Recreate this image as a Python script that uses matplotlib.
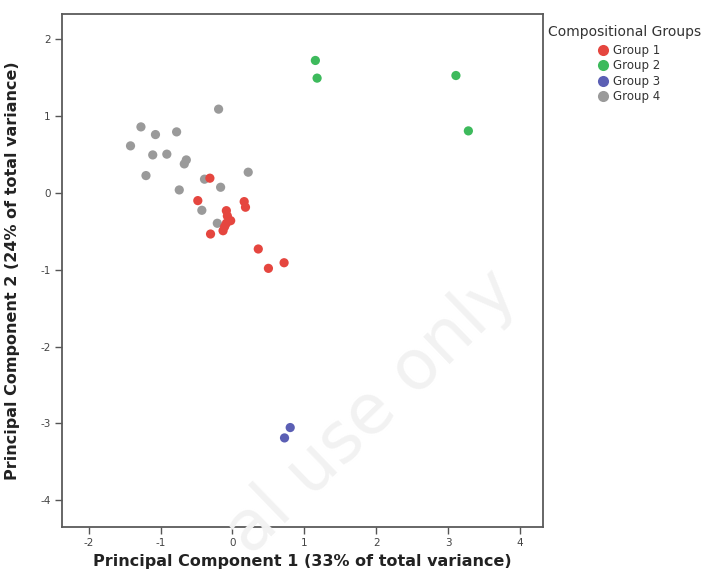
import matplotlib
matplotlib.use("Agg")
import matplotlib.pyplot as plt
from matplotlib.lines import Line2D

plt.rcParams['font.family'] = ['DejaVu Sans']

groups = ["Group 1", "Group 2", "Group 3", "Group 4"]
colors = ["#e5463f", "#3dba5c", "#5b5fb4", "#9a9a9a"]

g1_x = [-0.313, -0.481, 0.164, 0.182, -0.084, -0.070, -0.024, -0.084, -0.108, -0.130, -0.304, 0.360, 0.719, 0.501]
g1_y = [0.192, -0.100, -0.113, -0.186, -0.231, -0.300, -0.361, -0.395, -0.439, -0.492, -0.535, -0.730, -0.909, -0.982]
g2_x = [1.154, 1.178, 3.109, 3.282]
g2_y = [1.725, 1.495, 1.529, 0.808]
g3_x = [0.804, 0.725]
g3_y = [-3.055, -3.190]
g4_x = [-0.192, -1.272, -1.070, -0.776, -1.417, -1.108, -0.912, -0.641, -0.669, -1.202, 0.220, -0.388, -0.164, -0.739, -0.425, -0.210]
g4_y = [1.091, 0.860, 0.760, 0.795, 0.613, 0.495, 0.505, 0.430, 0.378, 0.226, 0.270, 0.179, 0.074, 0.039, -0.226, -0.395]

xticks = [-2, -1, 0, 1, 2, 3, 4]
yticks = [2, 1, 0, -1, -2, -3, -4]

W, H = 713, 577
fig = plt.figure(figsize=(W / 100, H / 100), dpi=100)
ax = fig.add_axes([62 / W, 1 - 527 / H, (543 - 62) / W, (527 - 14) / H])

# faint watermark
fig.text(372 / W, 1 - 412 / H, "al use only", rotation=44, fontsize=50, color="#f2f2f2",
         ha="center", va="center", zorder=0)
ax.patch.set_alpha(0)

ax.scatter(g4_x, g4_y, s=44, color=colors[3], edgecolors="none", zorder=3)
ax.scatter(g1_x, g1_y, s=44, color=colors[0], edgecolors="none", zorder=4)
ax.scatter(g2_x, g2_y, s=44, color=colors[1], edgecolors="none", zorder=3)
ax.scatter(g3_x, g3_y, s=44, color=colors[2], edgecolors="none", zorder=3)

ax.set_xlim(-2.37, 4.32)
ax.set_ylim(-4.35, 2.33)
ax.set_xticks(xticks)
ax.set_yticks(yticks)
ax.set_xticklabels([str(t) for t in xticks])
ax.set_yticklabels([str(t) for t in yticks])
ax.tick_params(axis="both", direction="out", length=5, width=1, color="#555555",
               labelsize=7.5, labelcolor="#444444", pad=3)
for sp in ax.spines.values():
    sp.set_color("#5a5a5a")
    sp.set_linewidth(1.3)

ax.set_xlabel("Principal Component 1 (33% of total variance)", fontsize=11.5,
              fontweight="bold", color="#222222")
ax.xaxis.set_label_coords(0.5, -0.052)
ax.xaxis.label.set_va("top")
ax.set_ylabel("Principal Component 2 (24% of total variance)", fontsize=11.5,
              fontweight="bold", color="#222222")
ax.yaxis.set_label_coords(-0.087, 0.5)

fig.text(548 / W, 1 - 32 / H, "Compositional Groups", fontsize=10,
         color="#333333", ha="left", va="center")
handles = [Line2D([0], [0], marker="o", linestyle="none", markersize=8,
                  markerfacecolor=c, markeredgecolor="none") for c in colors]
leg = fig.legend(handles, groups, loc="upper left",
                 bbox_to_anchor=(597 / W, 1 - 44 / H), frameon=False, fontsize=8.5,
                 handletextpad=0.35, labelspacing=0.2, handlelength=1.0,
                 borderaxespad=0, borderpad=0)
for t in leg.get_texts():
    t.set_color("#333333")

fig.savefig("out.png", dpi=100)
